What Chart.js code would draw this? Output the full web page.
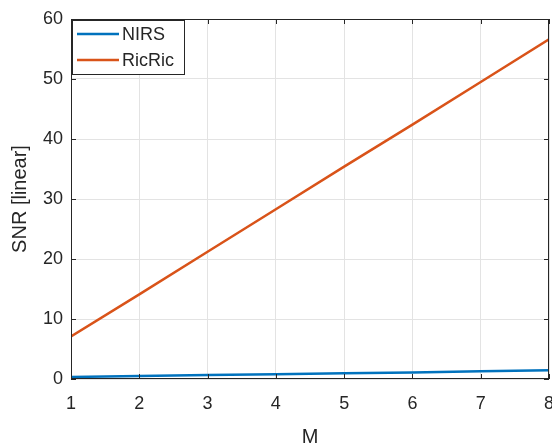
<!DOCTYPE html>
<html lang="en">
<head>
  <meta charset="UTF-8">
  <title>SNR vs M</title>
  <script src="https://cdn.jsdelivr.net/npm/chart.js"></script>
  <style>
    html, body { margin: 0; padding: 0; background: white; }
    #wrap { width: 552px; height: 443px; position: relative; }
  </style>
</head>
<body>
  <div id="wrap"><canvas id="chart"></canvas></div>
  <script>
    const mValues = [1, 2, 3, 4, 5, 6, 7, 8];
    const nirs = [0.35, 0.5, 0.65, 0.8, 0.95, 1.1, 1.3, 1.45];
    const ricric = [7.1, 14.1, 21.2, 28.3, 35.4, 42.4, 49.5, 56.6];
    const yTicks = [0, 10, 20, 30, 40, 50, 60];

    const FONT = '"Liberation Sans", Arial, sans-serif';
    const INK = '#262626';

    // MATLAB-style box, inward ticks and legend
    const boxPlugin = {
      id: 'box',
      afterDatasetsDraw(chart) {
        const { ctx, chartArea: a, scales } = chart;
        ctx.save();
        ctx.strokeStyle = INK;
        ctx.lineWidth = 1;
        const tl = 5;
        ctx.beginPath();
        mValues.forEach(v => {
          const x = Math.round(scales.x.getPixelForValue(v)) + 0.5;
          ctx.moveTo(x, a.bottom); ctx.lineTo(x, a.bottom - tl);
          ctx.moveTo(x, a.top); ctx.lineTo(x, a.top + tl);
        });
        yTicks.forEach(v => {
          const y = Math.round(scales.y.getPixelForValue(v)) + 0.5;
          ctx.moveTo(a.left, y); ctx.lineTo(a.left + tl, y);
          ctx.moveTo(a.right, y); ctx.lineTo(a.right - tl, y);
        });
        ctx.stroke();
        ctx.strokeRect(a.left + 0.5, a.top + 0.5, a.right - a.left - 1, a.bottom - a.top - 1);

        // legend
        const lx = a.left + 1, ly = a.top + 1, lw = 112, lh = 54;
        ctx.fillStyle = 'white';
        ctx.fillRect(lx, ly, lw, lh);
        ctx.strokeRect(lx + 0.5, ly + 0.5, lw, lh);
        ctx.font = '18px ' + FONT;
        ctx.textBaseline = 'middle';
        chart.data.datasets.forEach((ds, i) => {
          const yy = ly + 14 + i * 26;
          ctx.strokeStyle = ds.borderColor;
          ctx.lineWidth = 2.5;
          ctx.beginPath();
          ctx.moveTo(lx + 5, yy); ctx.lineTo(lx + 47, yy);
          ctx.stroke();
          ctx.fillStyle = INK;
          ctx.fillText(ds.label, lx + 50, yy + 1);
        });
        ctx.restore();
      }
    };

    new Chart(document.getElementById('chart'), {
      type: 'line',
      data: {
        datasets: [
          {
            label: 'NIRS',
            data: mValues.map((m, i) => ({ x: m, y: nirs[i] })),
            borderColor: '#0072BD',
            borderWidth: 2.5,
            pointRadius: 0,
            fill: false
          },
          {
            label: 'RicRic',
            data: mValues.map((m, i) => ({ x: m, y: ricric[i] })),
            borderColor: '#D95319',
            borderWidth: 2.5,
            pointRadius: 0,
            fill: false
          }
        ]
      },
      options: {
        responsive: true,
        maintainAspectRatio: false,
        animation: false,
        layout: { padding: { top: 19, right: 3, left: 0, bottom: 0 } },
        plugins: { legend: { display: false }, tooltip: { enabled: false } },
        scales: {
          x: {
            type: 'linear',
            min: 1, max: 8,
            afterBuildTicks(scale) { scale.ticks = mValues.map(v => ({ value: v })); },
            afterFit(scale) { scale.height = 64; scale.paddingRight = 0; scale.paddingLeft = 0; },
            grid: { color: '#e3e3e3', drawTicks: false },
            border: { display: false },
            ticks: { color: INK, font: { family: FONT, size: 18 }, padding: 14, maxRotation: 0 },
            title: { display: true, text: 'M', color: INK, font: { family: FONT, size: 20 }, padding: { top: 8, bottom: -6 } }
          },
          y: {
            min: 0, max: 60,
            afterBuildTicks(scale) { scale.ticks = yTicks.map(v => ({ value: v })); },
            afterFit(scale) { scale.width = 71; scale.paddingTop = 0; scale.paddingBottom = 0; },
            grid: { color: '#e3e3e3', drawTicks: false },
            border: { display: false },
            ticks: { color: INK, font: { family: FONT, size: 18 }, padding: 8 },
            title: { display: true, text: 'SNR [linear]', color: INK, font: { family: FONT, size: 20 }, padding: { top: 8, bottom: 2 } }
          }
        }
      },
      plugins: [boxPlugin]
    });
  </script>
</body>
</html>
